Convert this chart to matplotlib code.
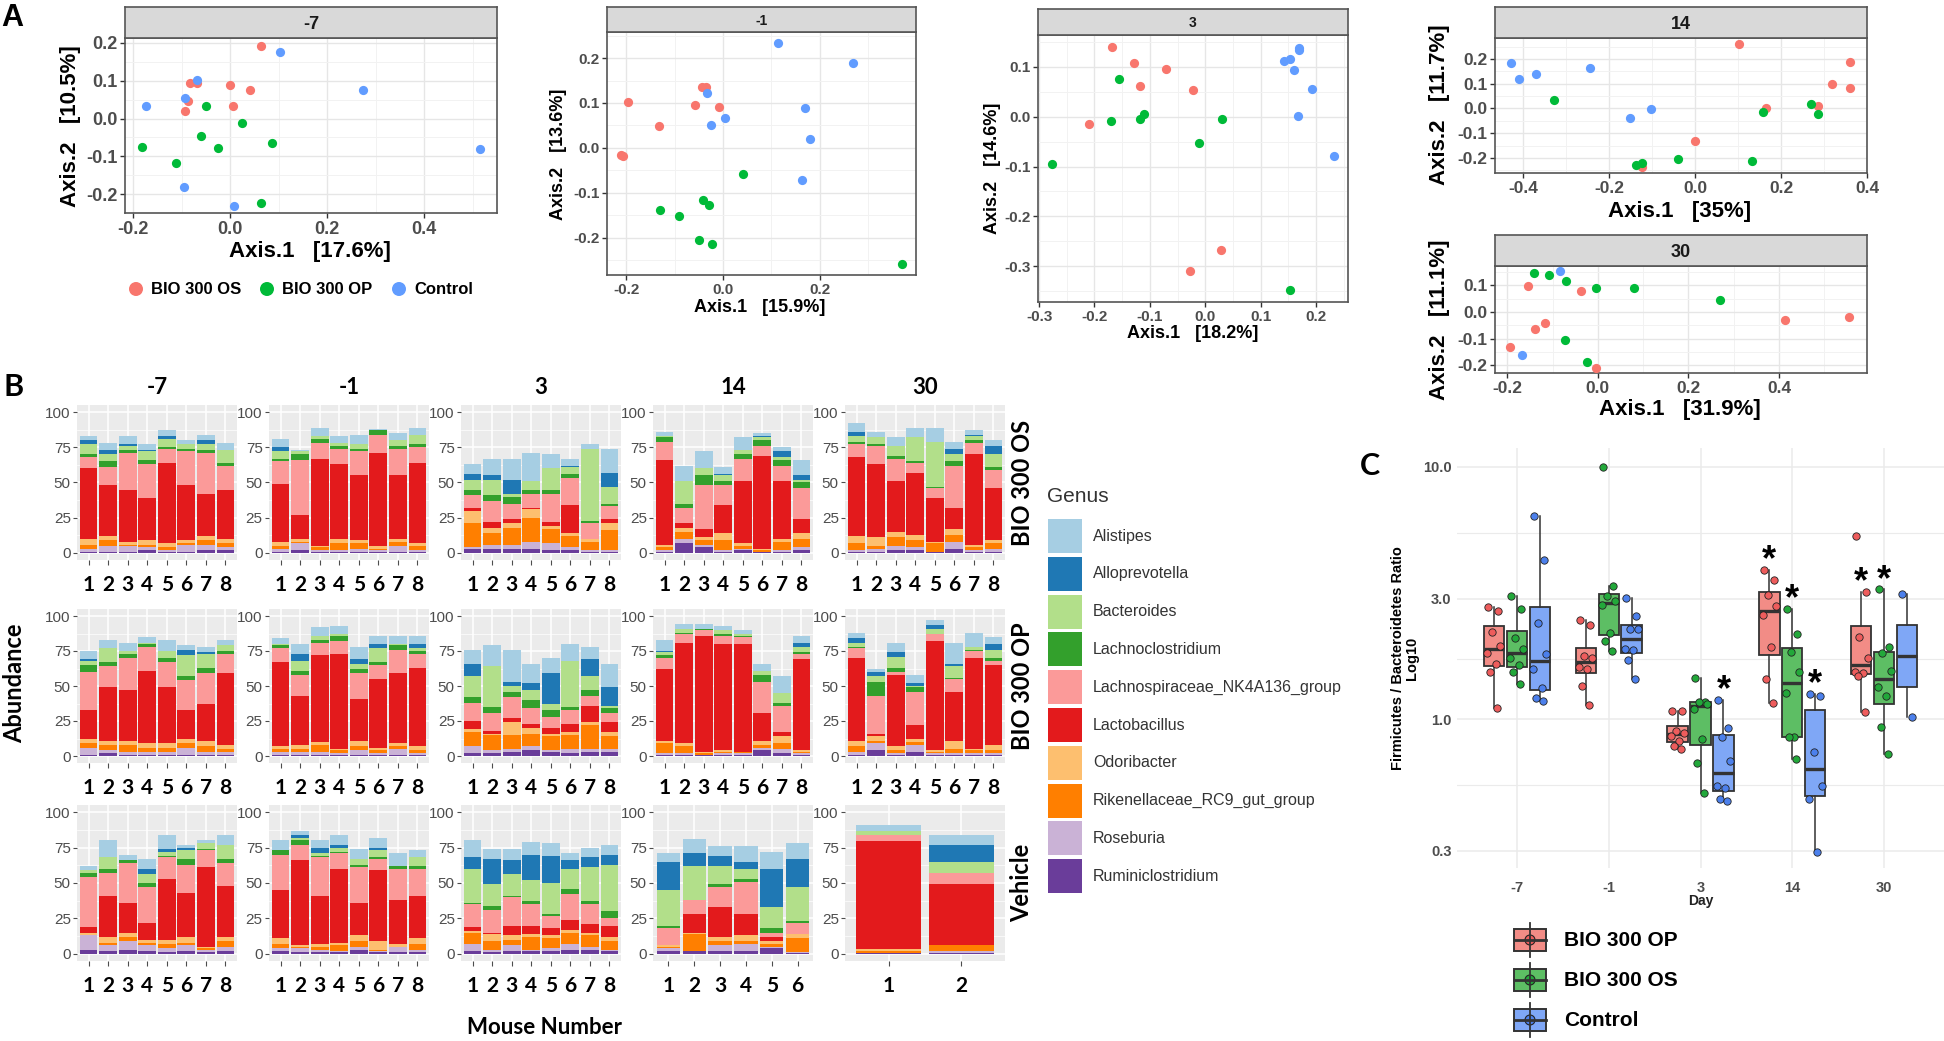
import numpy as np
import matplotlib
matplotlib.use("Agg")
import matplotlib.pyplot as plt
from matplotlib import font_manager
from matplotlib.patches import Rectangle, Circle

W, H = 1944, 1041

_names = {f.name for f in font_manager.fontManager.ttflist}
ARIAL = "Liberation Sans"
NARROW = "Liberation Sans Narrow" if "Liberation Sans Narrow" in _names else "Liberation Sans"
CALIBRI = "Lato" if "Lato" in _names else "DejaVu Sans"

# ---------------- panel A: PCoA (8 OS, 8 OP, then Control) ----------------
PCOA_GROUPS = ["BIO 300 OS", "BIO 300 OP", "Control"]
PCOA_COLORS = ["#F8766D", "#00BA38", "#619CFF"]

PC_M7_X = [0.064, -0.083, -0.068, 0.0, 0.041, -0.086, -0.093, 0.007,
           -0.050, 0.025, -0.060, -0.181, -0.025, 0.087, -0.111, 0.064,
           0.103, -0.069, -0.092, -0.174, 0.274, 0.516, -0.095, 0.008]
PC_M7_Y = [0.193, 0.094, 0.094, 0.089, 0.075, 0.045, 0.021, 0.034,
           0.032, -0.012, -0.046, -0.076, -0.079, -0.065, -0.117, -0.224,
           0.176, 0.103, 0.054, 0.034, 0.076, -0.081, -0.181, -0.231]
PC_M1_X = [-0.197, -0.212, -0.207, -0.132, -0.059, -0.043, -0.035, -0.008,
           0.041, -0.041, -0.030, -0.130, -0.091, -0.049, -0.023, 0.370,
           0.113, 0.269, -0.033, 0.004, -0.024, 0.169, 0.179, 0.163]
PC_M1_Y = [0.102, -0.016, -0.019, 0.049, 0.096, 0.135, 0.135, 0.091,
           -0.059, -0.115, -0.128, -0.138, -0.152, -0.204, -0.213, -0.259,
           0.233, 0.189, 0.123, 0.067, 0.052, 0.088, 0.019, -0.071]
PC_D3_X = [-0.169, -0.128, -0.070, -0.118, -0.022, -0.210, 0.029, -0.027,
           -0.155, -0.170, -0.117, -0.111, 0.030, -0.012, -0.277, 0.154,
           0.170, 0.169, 0.142, 0.154, 0.161, 0.193, 0.168, 0.233]
PC_D3_Y = [0.139, 0.107, 0.096, 0.061, 0.053, -0.015, -0.267, -0.309,
           0.075, -0.008, -0.004, 0.006, -0.005, -0.053, -0.094, -0.347,
           0.137, 0.134, 0.111, 0.116, 0.093, 0.055, 0.002, -0.079]
PC_D14_X = [0.103, 0.361, 0.319, 0.360, 0.166, 0.287, 0.0, -0.123,
            -0.329, 0.158, 0.270, 0.287, -0.040, -0.123, -0.137, 0.132,
            -0.428, -0.411, -0.370, -0.245, -0.104, -0.151]
PC_D14_Y = [0.261, 0.187, 0.099, 0.084, 0.003, 0.011, -0.133, -0.236,
            0.033, -0.013, 0.017, -0.022, -0.204, -0.220, -0.228, -0.213,
            0.185, 0.118, 0.140, 0.165, -0.002, -0.040]
PC_D30_X = [-0.155, -0.037, -0.116, -0.139, -0.194, -0.003, 0.413, 0.555,
            -0.140, -0.107, -0.070, -0.004, 0.079, 0.269, -0.073, -0.024,
            -0.083, -0.167]
PC_D30_Y = [0.096, 0.080, -0.042, -0.063, -0.132, -0.209, -0.032, -0.020,
            0.144, 0.138, 0.114, 0.088, 0.091, 0.046, -0.105, -0.186,
            0.155, -0.163]

# ---------------- panel B: genus abundance per mouse ----------------
GENERA = ["Alistipes", "Alloprevotella", "Bacteroides", "Lachnoclostridium",
          "Lachnospiraceae_NK4A136_group", "Lactobacillus", "Odoribacter",
          "Rikenellaceae_RC9_gut_group", "Roseburia", "Ruminiclostridium"]
GENUS_COLORS = ["#A6CEE3", "#1F78B4", "#B2DF8A", "#33A02C", "#FB9A99",
                "#E31A1C", "#FDBF6F", "#FF7F00", "#CAB2D6", "#6A3D9A"]
DAYS = ["-7", "-1", "3", "14", "30"]
ROW_GROUPS = ["BIO 300 OS", "BIO 300 OP", "Vehicle"]

# each bar: heights from bottom (Ruminiclostridium) to top (Alistipes)
OS_M7 = [[1, 2, 3, 4, 50, 8, 2, 7, 3, 3], [1, 4, 4, 3, 36, 13, 4, 5, 3, 5],
         [1, 4, 1, 2, 37, 26, 2, 3, 1, 6], [2, 2, 2, 3, 30, 24, 3, 6, 1, 4],
         [1, 1, 2, 3, 57, 10, 1, 6, 2, 4], [1, 5, 1, 2, 39, 24, 2, 3, 0, 3],
         [2, 4, 3, 3, 30, 29, 2, 4, 3, 4], [2, 2, 3, 3, 35, 17, 2, 9, 0, 5]]
OS_M1 = [[1, 2, 2, 3, 41, 16, 2, 5, 3, 6], [2, 5, 1, 2, 17, 39, 4, 2, 0, 1],
         [1, 1, 2, 1, 62, 11, 3, 2, 0, 6], [1, 1, 5, 3, 53, 11, 2, 2, 0, 5],
         [1, 2, 4, 2, 46, 17, 2, 3, 0, 7], [1, 1, 1, 2, 66, 13, 3, 0, 0, 1],
         [1, 4, 3, 2, 45, 19, 2, 4, 0, 5], [1, 1, 3, 2, 57, 11, 2, 7, 0, 5]]
OS_D3 = [[3, 1, 17, 9, 2, 9, 4, 7, 4, 7], [3, 3, 8, 4, 4, 15, 4, 11, 3, 12],
         [3, 3, 12, 3, 3, 11, 5, 2, 10, 15], [3, 5, 17, 6, 1, 10, 3, 6, 0, 20],
         [2, 5, 10, 2, 3, 20, 3, 15, 0, 10], [2, 2, 8, 2, 20, 19, 3, 5, 1, 5],
         [1, 1, 6, 2, 0, 11, 2, 51, 0, 3], [1, 1, 14, 5, 3, 9, 2, 12, 10, 17]]
OS_D14 = [[1, 1, 2, 2, 60, 13, 3, 1, 0, 3], [7, 3, 5, 3, 3, 11, 3, 16, 0, 11],
          [4, 2, 3, 2, 6, 31, 7, 5, 0, 12], [1, 1, 7, 5, 20, 14, 3, 4, 1, 5],
          [2, 1, 2, 2, 44, 16, 3, 3, 0, 9], [1, 0, 1, 1, 66, 7, 4, 2, 1, 2],
          [1, 1, 6, 2, 41, 11, 4, 2, 4, 3], [2, 2, 6, 4, 10, 22, 4, 2, 3, 11]]
OS_D30 = [[1, 1, 5, 5, 56, 9, 2, 4, 3, 6], [1, 2, 2, 6, 52, 13, 1, 5, 0, 4],
          [2, 3, 6, 4, 36, 16, 2, 7, 0, 6], [2, 2, 5, 4, 44, 7, 1, 17, 0, 7],
          [1, 0, 6, 1, 31, 7, 1, 32, 0, 10], [3, 5, 5, 4, 15, 30, 3, 5, 4, 5],
          [1, 1, 2, 2, 64, 8, 2, 3, 1, 3], [1, 2, 4, 2, 37, 13, 2, 9, 6, 4]]
OP_M7 = [[1, 5, 3, 3, 21, 27, 5, 3, 1, 6], [2, 2, 4, 3, 38, 15, 3, 10, 0, 6],
         [1, 2, 5, 3, 36, 23, 3, 2, 0, 6], [1, 2, 3, 3, 52, 17, 2, 1, 0, 4],
         [1, 2, 3, 3, 40, 18, 3, 5, 0, 8], [1, 5, 3, 3, 21, 21, 3, 15, 4, 3],
         [1, 2, 4, 4, 26, 22, 4, 10, 1, 4], [1, 2, 2, 3, 51, 14, 2, 4, 0, 4]]
OP_M1 = [[1, 2, 2, 2, 60, 10, 2, 1, 0, 4], [1, 2, 2, 3, 35, 15, 3, 7, 5, 7],
         [1, 2, 5, 2, 62, 9, 2, 3, 0, 6], [1, 1, 2, 1, 68, 9, 4, 1, 0, 6],
         [1, 3, 3, 4, 30, 18, 3, 4, 3, 9], [1, 1, 2, 2, 49, 10, 2, 10, 3, 6],
         [1, 4, 2, 2, 50, 17, 3, 1, 0, 6], [1, 1, 2, 3, 56, 10, 2, 2, 3, 6]]
OP_D3 = [[2, 5, 10, 2, 6, 13, 4, 15, 9, 10], [2, 2, 11, 1, 2, 13, 4, 29, 0, 15],
         [3, 2, 10, 9, 3, 15, 4, 4, 3, 23], [4, 3, 9, 4, 3, 11, 6, 7, 5, 14],
         [3, 1, 10, 2, 4, 8, 5, 4, 22, 11], [2, 3, 10, 2, 6, 10, 2, 33, 0, 12],
         [3, 2, 17, 2, 12, 7, 4, 10, 12, 9], [3, 2, 9, 3, 7, 7, 3, 2, 13, 17]]
OP_D14 = [[1, 1, 7, 2, 51, 8, 2, 2, 1, 8], [1, 1, 5, 2, 72, 6, 1, 3, 0, 3],
          [0.5, 0.5, 1, 1, 83, 4, 0.5, 0.5, 0, 3], [1, 1, 1, 1, 76, 6, 1, 3, 0, 3],
          [1, 1, 1, 0, 77, 5, 1, 1, 0, 3], [4, 2, 2, 3, 20, 22, 5, 3, 0, 5],
          [2, 3, 4, 5, 3, 19, 2, 7, 0, 12], [1, 1, 1, 1, 65, 4, 1, 4, 3, 5]]
OP_D30 = [[1, 2, 4, 4, 59, 7, 1, 3, 3, 4], [4, 5, 2, 3, 2, 27, 10, 4, 3, 2],
          [1, 1, 2, 3, 51, 2, 3, 8, 3, 7], [3, 5, 2, 2, 10, 24, 3, 1, 2, 6],
          [1, 1, 1, 1, 78, 5, 0.5, 3, 3, 3.5], [1, 1, 3, 6, 35, 9, 1, 8, 2, 15],
          [1, 1, 2, 1, 65, 5, 1, 2, 0, 10], [1, 1, 2, 4, 57, 3, 2, 6, 4, 5]]
VEH_M7 = [[3, 10, 0, 2, 4, 35, 3, 2, 0, 3], [2, 4, 2, 4, 29, 16, 3, 8, 0, 12],
          [3, 6, 3, 3, 21, 28, 2, 0, 0, 4], [2, 4, 2, 2, 12, 25, 3, 6, 4, 7],
          [1, 3, 3, 3, 43, 15, 1, 3, 2, 10], [2, 4, 2, 4, 31, 20, 4, 6, 2, 2],
          [1, 2, 1, 1, 56, 12, 1, 4, 0, 2], [2, 3, 4, 3, 36, 16, 3, 10, 0, 7]]
VEH_M1 = [[2, 2, 3, 4, 34, 25, 3, 0, 0, 7], [1, 3, 1, 1, 60, 11, 3, 2, 2, 3],
          [1, 2, 2, 2, 34, 27, 1, 2, 4, 5], [1, 1, 4, 2, 52, 11, 1, 3, 2, 7],
          [3, 2, 4, 4, 23, 25, 2, 4, 0, 7], [1, 1, 1, 6, 50, 8, 1, 5, 2, 7],
          [1, 4, 0, 2, 31, 22, 2, 0, 0, 9], [1, 2, 4, 4, 30, 19, 2, 6, 0, 5]]
VEH_D3 = [[2, 5, 8, 1, 3, 16, 1, 24, 8, 12], [1, 2, 6, 5, 1, 16, 3, 15, 18, 7],
          [2, 4, 4, 3, 7, 20, 1, 15, 10, 8], [2, 1, 9, 2, 6, 15, 2, 15, 18, 9],
          [2, 2, 7, 2, 5, 9, 1, 22, 19, 9], [3, 4, 8, 2, 7, 18, 4, 14, 6, 5],
          [3, 2, 8, 2, 6, 14, 2, 24, 7, 7], [2, 1, 6, 3, 8, 5, 5, 33, 7, 7]]
VEH_D14 = [[2, 2, 1, 1, 0, 12, 2, 25, 20, 6], [2, 0, 12, 1, 13, 10, 0, 24, 9, 10],
           [2, 4, 3, 3, 21, 14, 2, 13, 7, 7], [2, 5, 2, 4, 15, 23, 2, 7, 5, 11],
           [4, 1, 2, 2, 3, 3, 3, 15, 27, 12], [0.5, 0.5, 10, 3, 0, 8, 1, 24, 20, 11]]
VEH_D30 = [[0.3, 0.2, 1.5, 1.5, 76, 4.5, 0, 3, 0, 4],
           [0.5, 1.5, 4, 0, 43, 8, 0, 8, 12, 7]]

# ---------------- panel C: Firmicutes / Bacteroidetes ratio ----------------
C_GROUPS = ["BIO 300 OP", "BIO 300 OS", "Control"]
FB_OP = [[2.77, 2.69, 2.22, 1.95, 1.83, 1.66, 1.54, 1.106],
         [2.47, 2.36, 1.78, 1.75, 1.61, 1.58, 1.35, 1.14],
         [1.08, 1.08, 0.90, 0.88, 0.86, 0.82, 0.78, 0.76],
         [3.91, 3.55, 3.09, 2.80, 2.58, 1.93, 1.44, 1.155],
         [5.34, 3.20, 2.11, 1.75, 1.535, 1.52, 1.48, 1.063]]
FB_OS = [[3.07, 2.74, 2.09, 1.90, 1.75, 1.64, 1.53, 1.38],
         [10.0, 3.38, 3.07, 2.93, 2.84, 2.20, 2.04, 1.86],
         [1.46, 1.17, 1.17, 1.15, 1.10, 0.83, 0.67, 0.51],
         [2.74, 2.17, 1.84, 1.53, 1.27, 0.848, 0.848, 0.692],
         [3.27, 1.93, 1.82, 1.55, 1.34, 1.23, 0.926, 0.725]]
FB_CTRL = [[6.37, 4.27, 2.41, 1.81, 1.58, 1.33, 1.21, 1.18],
           [3.01, 2.57, 2.28, 2.28, 1.90, 1.87, 1.72, 1.44],
           [1.19, 0.921, 0.845, 0.682, 0.542, 0.534, 0.48, 0.472],
           [1.258, 1.231, 0.741, 0.542, 0.483, 0.298],
           [3.12, 1.015]]
SIG_MARKS = [(2, 2), (3, 0), (3, 1), (3, 2), (4, 0), (4, 1)]  # (day index, group index)
BOX_FILLS = ["#F28C86", "#5DBE64", "#7FA7F6"]
POINT_COLORS = ["#EE5C5C", "#22A83A", "#4C80EC"]
Y_BREAKS = [0.3, 1.0, 3.0, 10.0]

fig = plt.figure(figsize=(W / 100, H / 100), dpi=100)


def px_rect(x0, y0, x1, y1):
    return [x0 / W, 1 - y1 / H, (x1 - x0) / W, (y1 - y0) / H]


def minor_between(ticks):
    t = np.asarray(ticks, float)
    step = t[1] - t[0]
    return np.arange(t[0] - step / 2, t[-1] + step, step)


def pcoa_panel(plot_px, strip_px, title, xs, ys, counts, xlim, ylim, xticks, yticks,
               tick_fs, strip_fs):
    ax = fig.add_axes(px_rect(*plot_px))
    start = 0
    for color, n in zip(PCOA_COLORS, counts):
        ax.scatter(xs[start:start + n], ys[start:start + n], s=44, color=color,
                   linewidths=0, zorder=3)
        start += n
    ax.set_xticks(xticks)
    ax.set_xticklabels([f"{v + 0.0:.1f}" for v in xticks])
    ax.set_yticks(yticks)
    ax.set_yticklabels([f"{v + 0.0:.1f}" for v in yticks])
    ax.set_xticks(minor_between(xticks), minor=True)
    ax.set_yticks(minor_between(yticks), minor=True)
    # limits last: set_xticks would otherwise widen the view to the minor ticks
    ax.set_xlim(*xlim)
    ax.set_ylim(*ylim)
    ax.grid(which="major", color="#E6E6E6", lw=1.0, zorder=0)
    ax.grid(which="minor", color="#F2F2F2", lw=0.7, zorder=0)
    ax.set_axisbelow(True)
    for sp in ax.spines.values():
        sp.set_color("#555555")
        sp.set_linewidth(1.2)
    ax.tick_params(which="major", length=3.5, width=1, color="#333333",
                   labelsize=tick_fs, labelcolor="#4D4D4D", pad=2)
    ax.tick_params(which="minor", length=0)
    for lab in ax.get_xticklabels() + ax.get_yticklabels():
        lab.set_fontweight("bold")
        lab.set_family(ARIAL)
    sx = fig.add_axes(px_rect(*strip_px))
    sx.set_facecolor("#D9D9D9")
    sx.set_xticks([])
    sx.set_yticks([])
    for sp in sx.spines.values():
        sp.set_color("#555555")
        sp.set_linewidth(1.2)
    sx.text(0.5, 0.45, title, ha="center", va="center", fontsize=strip_fs,
            fontweight="bold", color="#1A1A1A", family=ARIAL, transform=sx.transAxes)
    return ax


pcoa_panel((125, 38, 497, 213), (125, 7, 497, 38), "-7", PC_M7_X, PC_M7_Y, [8, 8, 8],
           (-0.2165, 0.55), (-0.25, 0.213), [-0.2, 0.0, 0.2, 0.4],
           [-0.2, -0.1, 0.0, 0.1, 0.2], 13, 13)
pcoa_panel((607, 32, 916, 275), (607, 7, 916, 32), "-1", PC_M1_X, PC_M1_Y, [8, 8, 8],
           (-0.24, 0.399), (-0.283, 0.258), [-0.2, 0.0, 0.2],
           [-0.2, -0.1, 0.0, 0.1, 0.2], 11, 10)
pcoa_panel((1038, 35, 1348, 302), (1038, 9, 1348, 35), "3", PC_D3_X, PC_D3_Y, [8, 8, 8],
           (-0.302, 0.258), (-0.372, 0.164), [-0.3, -0.2, -0.1, 0.0, 0.1, 0.2],
           [-0.3, -0.2, -0.1, 0.0, 0.1], 11, 10)
pcoa_panel((1495, 38, 1867, 173), (1495, 7, 1867, 38), "14", PC_D14_X, PC_D14_Y, [8, 8, 6],
           (-0.466, 0.4), (-0.261, 0.285), [-0.4, -0.2, 0.0, 0.2, 0.4],
           [-0.2, -0.1, 0.0, 0.1, 0.2], 12.5, 13)
pcoa_panel((1495, 266, 1867, 373), (1495, 235, 1867, 266), "30", PC_D30_X, PC_D30_Y, [8, 8, 2],
           (-0.227, 0.594), (-0.229, 0.172), [-0.2, 0.0, 0.2, 0.4],
           [-0.2, -0.1, 0.0, 0.1], 12.5, 13)

# ---------------- panel B ----------------
COL_X0 = [77, 269, 461, 653, 845]
ROW_Y = [(405, 560), (609, 763), (805, 961)]
B_DATA = [[OS_M7, OS_M1, OS_D3, OS_D14, OS_D30],
          [OP_M7, OP_M1, OP_D3, OP_D14, OP_D30],
          [VEH_M7, VEH_M1, VEH_D3, VEH_D14, VEH_D30]]
stack_colors = GENUS_COLORS[::-1]

for r, (y0, y1) in enumerate(ROW_Y):
    for c, x0 in enumerate(COL_X0):
        data = np.array(B_DATA[r][c], float)
        ax = fig.add_axes(px_rect(x0, y0, x0 + 160, y1))
        n = data.shape[0]
        xpos = np.arange(1, n + 1)
        bottom = np.zeros(n)
        for j, col in enumerate(stack_colors):
            ax.bar(xpos, data[:, j], bottom=bottom, width=0.9, color=col,
                   linewidth=0, zorder=2)
            bottom += data[:, j]
        ax.set_facecolor("#EBEBEB")
        ax.set_yticks([0, 25, 50, 75, 100])
        ax.set_yticks([12.5, 37.5, 62.5, 87.5], minor=True)
        ax.set_xticks(xpos)
        ax.set_xticklabels([str(i) for i in xpos])
        ax.set_xlim(0.4, n + 0.6)
        ax.set_ylim(-5, 105)
        ax.grid(which="major", color="white", lw=1.1, zorder=0)
        ax.grid(which="minor", axis="y", color="white", lw=0.5, zorder=0)
        ax.set_axisbelow(True)
        for sp in ax.spines.values():
            sp.set_visible(False)
        ax.tick_params(axis="y", which="major", length=3, width=0.8, color="#4D4D4D",
                       labelsize=11, labelcolor="#4D4D4D", pad=1.5)
        ax.tick_params(axis="x", length=3.5, width=0.8, color="#4D4D4D",
                       labelsize=15, labelcolor="black", pad=7)
        ax.tick_params(which="minor", length=0)
        for lab in ax.get_yticklabels():
            lab.set_family(NARROW)
        for lab in ax.get_xticklabels():
            lab.set_family(CALIBRI)
            lab.set_fontweight("bold")

# ---------------- panel C ----------------
axc = fig.add_axes(px_rect(1457, 448, 1944, 868))
offsets = [-0.25, 0.0, 0.25]
jitter = np.array([-0.06, 0.05, -0.02, 0.07, -0.07, 0.02, -0.04, 0.04])
whisker_tops = {}
for g, series in enumerate([FB_OP, FB_OS, FB_CTRL]):
    for d, vals in enumerate(series):
        lv = np.log10(vals)
        pos = d + 1 + offsets[g]
        bp = axc.boxplot(lv, positions=[pos], widths=0.22, patch_artist=True,
                         showfliers=False, showcaps=False, whis=1.5, manage_ticks=False,
                         boxprops=dict(facecolor=BOX_FILLS[g], edgecolor="#333333", lw=1.3),
                         medianprops=dict(color="#333333", lw=2.4),
                         whiskerprops=dict(color="#333333", lw=1.1), zorder=2)
        whisker_tops[(d, g)] = bp["whiskers"][1].get_ydata()[1]
        axc.scatter(pos + jitter[:len(lv)], lv, s=28, color=POINT_COLORS[g],
                    edgecolors="#222222", linewidths=0.6, zorder=4)
for d, g in SIG_MARKS:
    axc.text(d + 1 + offsets[g], whisker_tops[(d, g)] + 0.035, "*", ha="center",
             va="center", fontsize=26, fontweight="bold", family=ARIAL, zorder=5)

ylog = np.log10(Y_BREAKS)
axc.set_yticks(ylog)
axc.set_yticklabels([f"{v:.1f}" for v in Y_BREAKS])
axc.set_yticks((ylog[:-1] + ylog[1:]) / 2, minor=True)
axc.set_xticks(np.arange(1, 6))
axc.set_xticklabels(DAYS)
axc.set_xlim(0.35, 5.65)
axc.set_ylim(-0.591, 1.075)
axc.grid(which="major", color="#EBEBEB", lw=1.1, zorder=0)
axc.grid(which="minor", axis="y", color="#EBEBEB", lw=0.8, zorder=0)
axc.set_axisbelow(True)
for sp in axc.spines.values():
    sp.set_visible(False)
axc.tick_params(which="both", length=0, labelsize=10.5, labelcolor="#4D4D4D")
axc.tick_params(axis="y", pad=4)
axc.tick_params(axis="x", pad=9)
for lab in axc.get_xticklabels() + axc.get_yticklabels():
    lab.set_family(ARIAL)
    lab.set_fontweight("bold")

# ---------------- overlay: labels, legends ----------------
ov = fig.add_axes([0, 0, 1, 1])
ov.set_xlim(0, W)
ov.set_ylim(H, 0)
ov.axis("off")
ov.patch.set_alpha(0)


def t(x, y, s, **kw):
    kw.setdefault("ha", "center")
    kw.setdefault("va", "center")
    ov.text(x, y, s, **kw)


t(12, 18, "A", fontsize=22, fontweight="bold", family=ARIAL)
t(14, 387, "B", fontsize=22, fontweight="bold", family=CALIBRI)
t(1370, 466, "C", fontsize=22, fontweight="bold", family=CALIBRI)

# panel A axis titles
for (x, y, s, fs) in [(310, 252, "Axis.1   [17.6%]", 16), (760, 307, "Axis.1   [15.9%]", 13),
                      (1193, 333, "Axis.1   [18.2%]", 13), (1680, 212, "Axis.1   [35%]", 16),
                      (1680, 410, "Axis.1   [31.9%]", 16)]:
    t(x, y, s, fontsize=fs, fontweight="bold", family=ARIAL)
for (x, y, s, fs) in [(70, 126, "Axis.2   [10.5%]", 16), (558, 154, "Axis.2   [13.6%]", 13),
                      (992, 168, "Axis.2   [14.6%]", 13), (1439, 105, "Axis.2   [11.7%]", 16),
                      (1439, 320, "Axis.2   [11.1%]", 16)]:
    t(x, y, s, fontsize=fs, fontweight="bold", family=ARIAL, rotation=90)

# panel A legend
for (cx, color, label) in zip([136, 267, 399], PCOA_COLORS, PCOA_GROUPS):
    ov.add_patch(Circle((cx, 289), 7, color=color, lw=0))
    t(cx + 15, 290, label, ha="left", fontsize=12, fontweight="bold", family=ARIAL)

# panel B titles
for x0, day in zip(COL_X0, DAYS):
    t(x0 + 80, 387, day, fontsize=16, fontweight="bold", family=CALIBRI)
for (y0, y1), grp in zip(ROW_Y, ROW_GROUPS):
    t(1022, (y0 + y1) / 2, grp, rotation=90, fontsize=17, fontweight="bold", family=CALIBRI)
t(15, 683, "Abundance", rotation=90, fontsize=17, fontweight="bold", family=CALIBRI)
t(544, 1027, "Mouse Number", fontsize=16, fontweight="bold", family=CALIBRI)

# genus legend
t(1047, 497, "Genus", ha="left", fontsize=15, color="#333333", family=ARIAL)
for i, (name, col) in enumerate(zip(GENERA, GENUS_COLORS)):
    ytop = 519 + i * 37.8
    ov.add_patch(Rectangle((1048, ytop), 34, 34, color=col, lw=0))
    t(1093, ytop + 17, name, ha="left", fontsize=11.5, color="#333333", family=ARIAL)

# panel C titles and legend
t(1405, 658, "Firmicutes / Bacteroidetes Ratio\nLog10", rotation=90, fontsize=10.5,
  fontweight="bold", family=ARIAL, linespacing=1.0)
t(1701, 901, "Day", fontsize=10, fontweight="bold", family=ARIAL, color="#222222")
for cy, fill, pt, label in zip([940, 980, 1020], BOX_FILLS, POINT_COLORS, C_GROUPS):
    ov.plot([1530, 1530], [cy - 17, cy + 17], color="#333333", lw=1.3)
    ov.add_patch(Rectangle((1514, cy - 11), 32, 22, facecolor=fill, edgecolor="#333333", lw=1.4))
    ov.plot([1514, 1546], [cy, cy], color="#333333", lw=2)
    ov.add_patch(Circle((1530, cy), 5, facecolor=pt, edgecolor="#222222", lw=0.8))
    t(1564, cy, label, ha="left", fontsize=15, fontweight="bold", family=ARIAL)

fig.savefig("out.png", dpi=100)
